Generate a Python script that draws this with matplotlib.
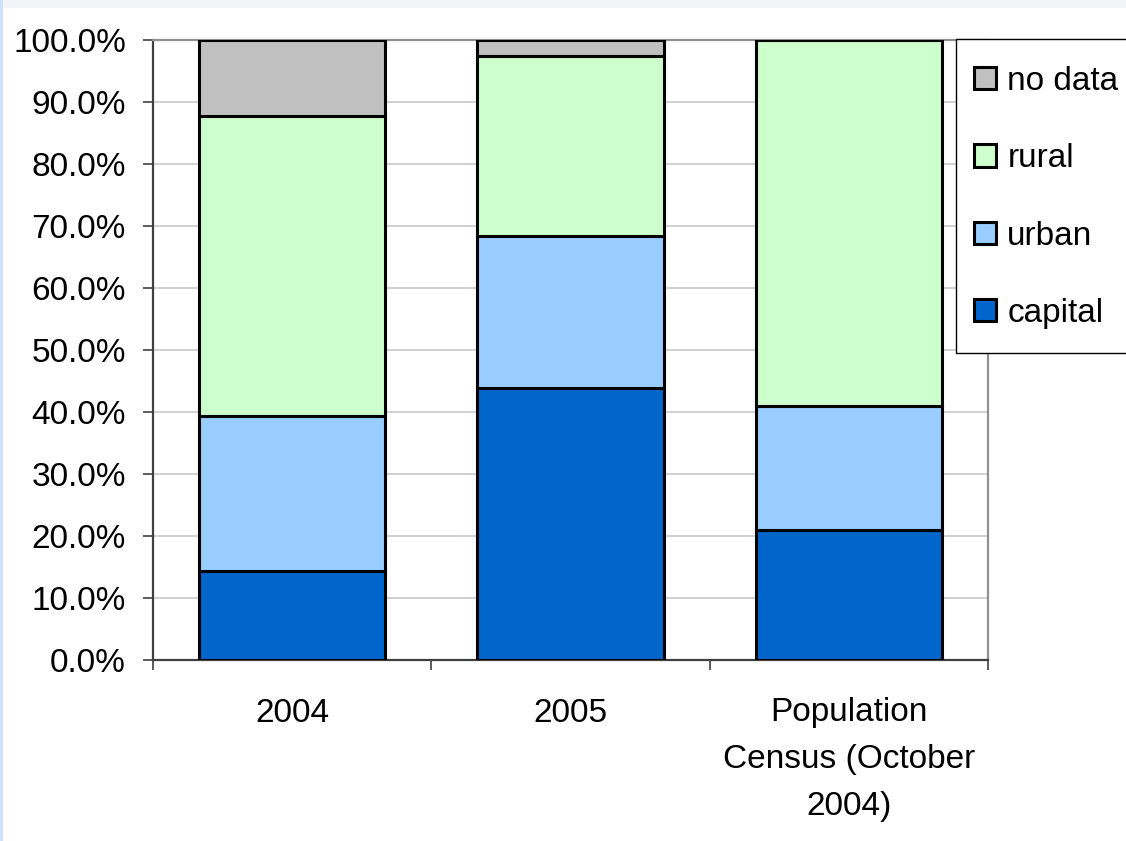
import matplotlib
matplotlib.use("Agg")
import matplotlib.pyplot as plt
from matplotlib.patches import Rectangle, Patch
from matplotlib.ticker import PercentFormatter
from matplotlib.transforms import offset_copy
import numpy as np

categories = ["2004", "2005", "Population\nCensus (October\n2004)"]
capital = [14.3, 43.9, 21.0]
urban = [25.1, 24.5, 19.9]
rural = [48.3, 29.1, 59.1]
no_data = [12.3, 2.5, 0.0]
series_names = ["capital", "urban", "rural", "no data"]
series_colors = ["#0066cc", "#99ccff", "#ccffcc", "#c0c0c0"]
yticks = [0, 10, 20, 30, 40, 50, 60, 70, 80, 90, 100]

plt.rcParams['font.family'] = ['Liberation Sans', 'DejaVu Sans']

W, H = 1126, 841
fig = plt.figure(figsize=(W / 100, H / 100), dpi=100)
fig.patch.set_facecolor("white")
# background strips
fig.patches.append(Rectangle((0, 1 - 8 / H), 1, 8 / H, transform=fig.transFigure,
                             facecolor="#f2f4f7", edgecolor="none", zorder=0))
fig.patches.append(Rectangle((0, 0), 3 / W, 1, transform=fig.transFigure,
                             facecolor="#cfe2fb", edgecolor="none", zorder=0))

ax = fig.add_axes([153 / W, 1 - 660 / H, (988 - 153) / W, (660 - 40) / H])
ax.set_facecolor("white")

x = np.arange(len(categories))
series = [capital, urban, rural, no_data]
bottom = np.zeros(len(categories))
handles = []
for vals, name, col in zip(series, series_names, series_colors):
    vals = np.array(vals, dtype=float)
    ax.bar(x, vals, width=0.67, bottom=bottom, color=col, edgecolor="black",
           linewidth=2.2, zorder=3)
    bottom += vals
    handles.append(Patch(facecolor=col, edgecolor="black", linewidth=2.2, label=name))

ax.set_xlim(-0.5, 2.5)
ax.set_ylim(0, 100)
ax.set_yticks(yticks)
ax.yaxis.set_major_formatter(PercentFormatter(decimals=1))
ax.grid(axis="y", color="#c8c8c8", linewidth=1.2, zorder=0)
ax.set_axisbelow(True)

# category labels (centred under each bar), boundary ticks between categories
ax.set_xticks([-0.5, 0.5, 1.5, 2.5])
ax.set_xticklabels([])
ax.tick_params(axis="x", length=7.5, width=1.2, color="#404040")
lab_tr = offset_copy(ax.get_xaxis_transform(), fig=fig, y=-27, units="points")
for xi, cat in zip(x, categories):
    ax.text(xi, 0, cat, transform=lab_tr, ha="center", va="top",
            multialignment="center", fontsize=24, linespacing=1.65)
ax.tick_params(axis="y", length=7.5, width=1.2, color="#404040", pad=12, labelsize=24)

for s in ["left", "bottom"]:
    ax.spines[s].set_color("#404040")
    ax.spines[s].set_linewidth(1.6)
for s in ["top", "right"]:
    ax.spines[s].set_color("#909090")
    ax.spines[s].set_linewidth(1.6)

# legend frame
fig.patches.append(Rectangle((956 / W, 1 - 353 / H), 200 / W, (353 - 39) / H,
                             transform=fig.transFigure, facecolor="white",
                             edgecolor="black", linewidth=1.0, zorder=4))
leg = fig.legend(handles[::-1], series_names[::-1], loc="upper left",
                 bbox_to_anchor=(974 / W, 1 - 66 / H), borderaxespad=0,
                 fontsize=24, handlelength=0.65, handleheight=0.65,
                 handletextpad=0.35, labelspacing=1.39, borderpad=0,
                 frameon=False)
leg.set_zorder(5)

fig.savefig("out.png", dpi=100, facecolor=fig.get_facecolor())
